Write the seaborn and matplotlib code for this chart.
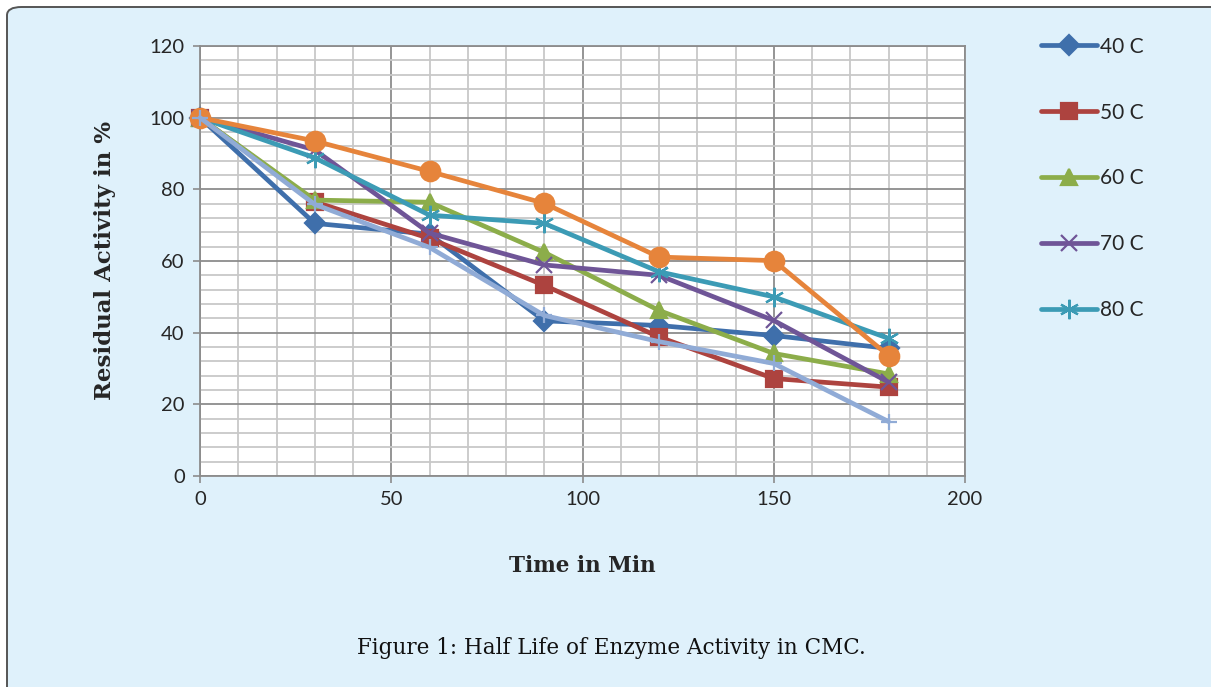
import numpy as np
import pandas as pd
import matplotlib
matplotlib.use("Agg")
import matplotlib.pyplot as plt
from matplotlib.patches import FancyBboxPatch
from matplotlib.ticker import MultipleLocator
import seaborn as sns

time_min = [0, 30, 60, 90, 120, 150, 180]
c40 = [100, 70.5, 67.5, 43.3, 42.0, 39.2, 35.6]
c50 = [100, 76.5, 66.3, 53.2, 38.8, 27.2, 24.8]
c60 = [100, 77.0, 76.4, 62.4, 46.2, 34.2, 28.5]
c70 = [100, 91.0, 67.8, 58.9, 56.0, 43.4, 26.2]
c80 = [100, 88.8, 72.8, 70.5, 57.0, 50.0, 38.4]
c_orange = [100, 93.5, 85.0, 76.1, 61.1, 60.1, 33.6]
c_light = [100, 75.8, 63.8, 44.8, 37.5, 31.4, 15.2]

series_labels = ["40 C", "50 C", "60 C", "70 C", "80 C", "_s6", "_s7"]
series_values = [c40, c50, c60, c70, c80, c_orange, c_light]
colors = ["#3f6fab", "#ad433f", "#8cad4a", "#6f5597", "#3c9bb5", "#e6843b", "#90abd6"]
markers = ["D", "s", "^", "x", (6, 2, 0), "o", "+"]
msizes = [10, 11, 11, 12, 14, 14, 12]

sns.set_theme(style="white")
plt.rcParams['font.family'] = ['Lato', 'DejaVu Sans']

fig = plt.figure(figsize=(12.11, 6.87), dpi=100)
fig.patch.set_facecolor("white")
bg = FancyBboxPatch((7/1211, -0.1), 1.2, 1.1 - 7/687, boxstyle="round,pad=0,rounding_size=0.012",
                    transform=fig.transFigure, facecolor="#dff1fb", edgecolor="#555555",
                    linewidth=1.4, zorder=-10)
fig.patches.append(bg)

ax = fig.add_axes([200/1211, 1-476/687, (965-200)/1211, (476-46)/687])
ax.set_facecolor("white")

ax.set_xlim(0, 200)
ax.set_ylim(0, 120)
ax.xaxis.set_major_locator(MultipleLocator(50))
ax.xaxis.set_minor_locator(MultipleLocator(10))
ax.yaxis.set_major_locator(MultipleLocator(20))
ax.yaxis.set_minor_locator(MultipleLocator(4))
ax.grid(which="minor", color="#c8c8c8", linewidth=1.3, zorder=0)
ax.grid(which="major", color="#8c8c8c", linewidth=1.3, zorder=0)
ax.set_axisbelow(True)
for s in ax.spines.values():
    s.set_color("#8c8c8c")
    s.set_linewidth(1.3)

lines = []
for lab, vals, col, mk, ms in zip(series_labels, series_values, colors, markers, msizes):
    df = pd.DataFrame({"t": time_min, "v": vals})
    sns.lineplot(data=df, x="t", y="v", ax=ax, color=col, linewidth=3.4,
                 marker=mk, markersize=ms, markeredgecolor=col, markerfacecolor=col,
                 markeredgewidth=1.6, label=lab, legend=False, zorder=3, clip_on=False)
    lines.append(ax.lines[-1])

ax.tick_params(axis="both", which="major", length=5, color="#8c8c8c", width=1.2,
               labelsize=14.5, direction="out", bottom=True, left=True, pad=6)
ax.tick_params(axis="both", which="minor", length=0)
ax.set_xlabel("Time in Min", fontsize=15.5, fontweight="bold", family="DejaVu Serif", labelpad=34)
ax.set_ylabel("Residual Activity in %", fontsize=16.5, fontweight="bold", family="DejaVu Serif", labelpad=24)

leg = fig.legend(handles=lines[:5], labels=series_labels[:5], loc="upper left",
                 bbox_to_anchor=(1022/1211, 1-18/687), frameon=False, fontsize=15,
                 labelspacing=2.2, handlelength=2.7, handletextpad=0.15)

fig.text(611/1211, 1-648/687, "Figure 1: Half Life of Enzyme Activity in CMC.", ha="center", va="center",
         fontsize=15.5, family="DejaVu Serif", color="#111111")

fig.savefig("out.png", dpi=100, facecolor=fig.get_facecolor())
